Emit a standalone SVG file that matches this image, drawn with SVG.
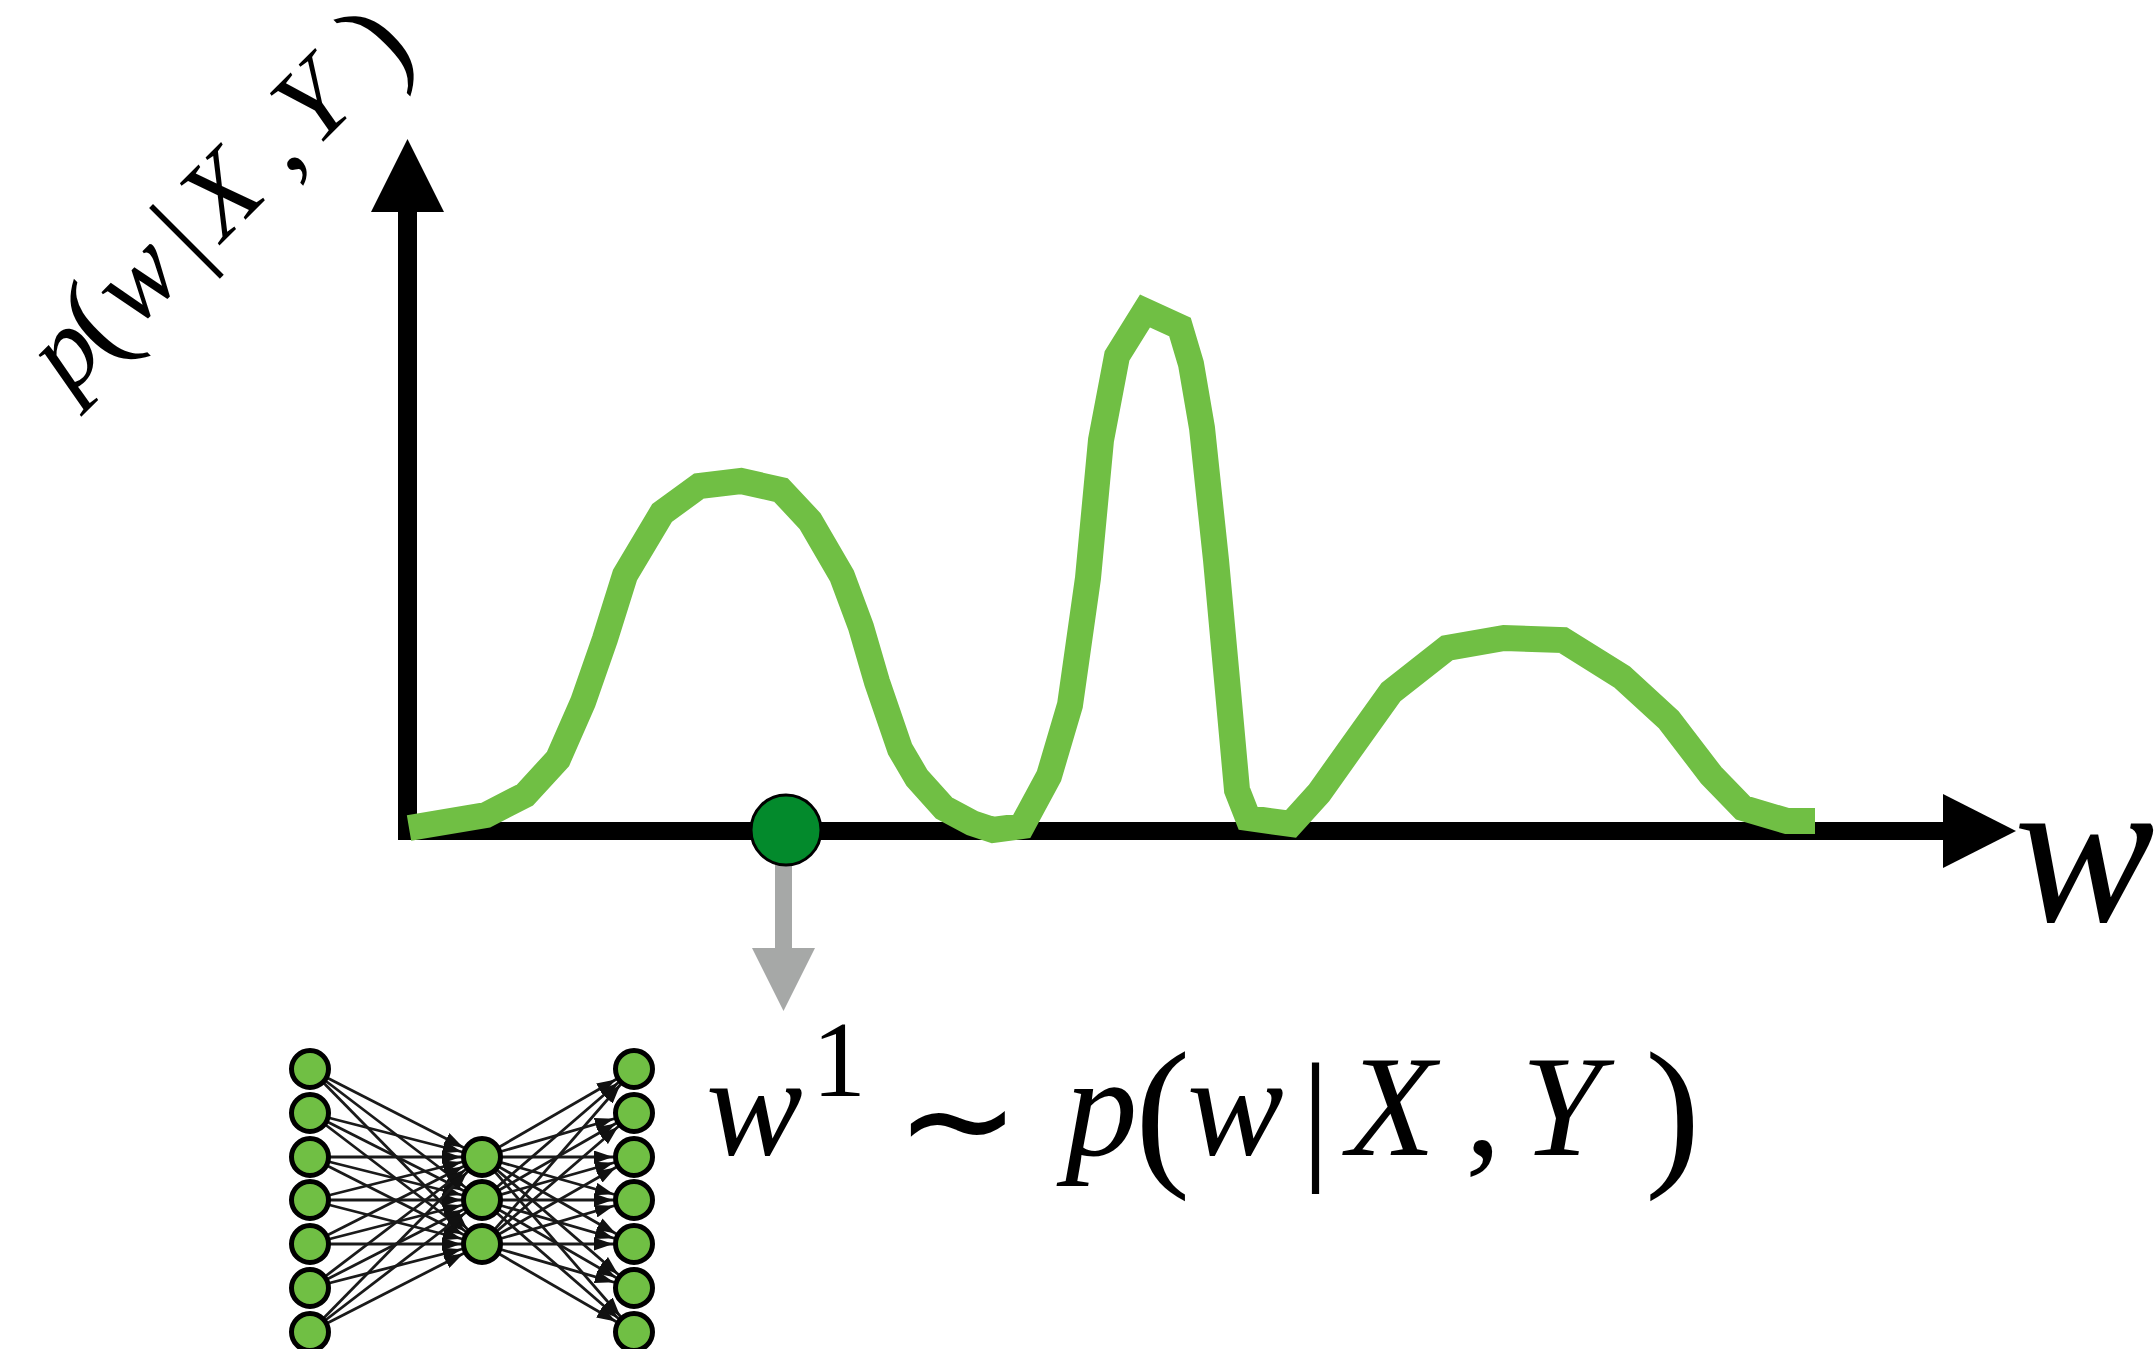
<svg xmlns="http://www.w3.org/2000/svg" width="2156" height="1349" viewBox="0 0 2156 1349">
<style>
.ax{fill:#000}
.curve{fill:none;stroke:#70bf44;stroke-width:26;stroke-linejoin:miter;stroke-miterlimit:10}
.node{fill:#70bf44;stroke:#000;stroke-width:5}
.edges line{stroke:#1a1a1a;stroke-width:2.8;marker-end:url(#ah)}
.m{font-family:"Liberation Serif","Times New Roman",serif;fill:#000}
.i{font-style:italic}
.op{font-family:"DejaVu Sans",sans-serif}
</style>
<defs>
<marker id="ah" markerUnits="userSpaceOnUse" viewBox="0 0 19 13" markerWidth="19" markerHeight="13" refX="40" refY="6.5" orient="auto">
<path d="M0,0 L19,6.5 L0,13 z" fill="#111"/>
</marker>
</defs>

<g id="axes">
<rect class="ax" x="398" y="205" width="19" height="635"/>
<polygon class="ax" points="407.5,139 371,212 444,212"/>
<rect class="ax" x="398" y="822" width="1550" height="18"/>
<polygon class="ax" points="2016,831 1943,794 1943,868"/>
</g>

<g id="density-curve">
<polyline class="curve" points="409,828 486,815 525,795 558,759 583,702 605,639 625,575 662,513 699,486 741,481 781,490 810,521 842,576 861,627 877,682 900,749 917,778 944,808 972,823 993,830 1022,826 1049,776 1070,705 1088,578 1101,440 1117,356 1145,311 1180,327 1191,364 1202,428 1216,560 1227,680 1237,790 1248,818 1291,824 1319,793 1351,748 1391,692 1447,648 1504,638 1563,640 1622,677 1669,720 1711,775 1743,808 1787,821 1815,821"/>
</g>

<g id="sample-arrow">
<rect x="775" y="864" width="17" height="86" fill="#a6a8a7"/>
<polygon points="752,948 815,948 783.5,1011" fill="#a6a8a7"/>
</g>

<g id="sample-point">
<circle cx="786" cy="830" r="35" fill="#038a2c" stroke="#000" stroke-width="3"/>
</g>

<g id="network">
<g class="edges">
<line x1="310" y1="1069" x2="482" y2="1157"/><line x1="310" y1="1069" x2="482" y2="1200"/><line x1="310" y1="1069" x2="482" y2="1244"/>
<line x1="310" y1="1113" x2="482" y2="1157"/><line x1="310" y1="1113" x2="482" y2="1200"/><line x1="310" y1="1113" x2="482" y2="1244"/>
<line x1="310" y1="1157" x2="482" y2="1157"/><line x1="310" y1="1157" x2="482" y2="1200"/><line x1="310" y1="1157" x2="482" y2="1244"/>
<line x1="310" y1="1200" x2="482" y2="1157"/><line x1="310" y1="1200" x2="482" y2="1200"/><line x1="310" y1="1200" x2="482" y2="1244"/>
<line x1="310" y1="1244" x2="482" y2="1157"/><line x1="310" y1="1244" x2="482" y2="1200"/><line x1="310" y1="1244" x2="482" y2="1244"/>
<line x1="310" y1="1288" x2="482" y2="1157"/><line x1="310" y1="1288" x2="482" y2="1200"/><line x1="310" y1="1288" x2="482" y2="1244"/>
<line x1="310" y1="1332" x2="482" y2="1157"/><line x1="310" y1="1332" x2="482" y2="1200"/><line x1="310" y1="1332" x2="482" y2="1244"/>
<line x1="482" y1="1157" x2="634" y2="1069"/><line x1="482" y1="1157" x2="634" y2="1113"/><line x1="482" y1="1157" x2="634" y2="1157"/><line x1="482" y1="1157" x2="634" y2="1200"/><line x1="482" y1="1157" x2="634" y2="1244"/><line x1="482" y1="1157" x2="634" y2="1288"/><line x1="482" y1="1157" x2="634" y2="1332"/>
<line x1="482" y1="1200" x2="634" y2="1069"/><line x1="482" y1="1200" x2="634" y2="1113"/><line x1="482" y1="1200" x2="634" y2="1157"/><line x1="482" y1="1200" x2="634" y2="1200"/><line x1="482" y1="1200" x2="634" y2="1244"/><line x1="482" y1="1200" x2="634" y2="1288"/><line x1="482" y1="1200" x2="634" y2="1332"/>
<line x1="482" y1="1244" x2="634" y2="1069"/><line x1="482" y1="1244" x2="634" y2="1113"/><line x1="482" y1="1244" x2="634" y2="1157"/><line x1="482" y1="1244" x2="634" y2="1200"/><line x1="482" y1="1244" x2="634" y2="1244"/><line x1="482" y1="1244" x2="634" y2="1288"/><line x1="482" y1="1244" x2="634" y2="1332"/>
</g>
<g id="layer-in">
<circle class="node" cx="310" cy="1069" r="18.5"/><circle class="node" cx="310" cy="1113" r="18.5"/><circle class="node" cx="310" cy="1157" r="18.5"/><circle class="node" cx="310" cy="1200" r="18.5"/><circle class="node" cx="310" cy="1244" r="18.5"/><circle class="node" cx="310" cy="1288" r="18.5"/><circle class="node" cx="310" cy="1332" r="18.5"/>
</g>
<g id="layer-hidden">
<circle class="node" cx="482" cy="1157" r="18.5"/><circle class="node" cx="482" cy="1200" r="18.5"/><circle class="node" cx="482" cy="1244" r="18.5"/>
</g>
<g id="layer-out">
<circle class="node" cx="634" cy="1069" r="18.5"/><circle class="node" cx="634" cy="1113" r="18.5"/><circle class="node" cx="634" cy="1157" r="18.5"/><circle class="node" cx="634" cy="1200" r="18.5"/><circle class="node" cx="634" cy="1244" r="18.5"/><circle class="node" cx="634" cy="1288" r="18.5"/><circle class="node" cx="634" cy="1332" r="18.5"/>
</g>
</g>

<g id="y-label">
<text class="m" transform="translate(232.5,232.5) rotate(-45)" font-size="110"><tspan class="i" x="-231" y="0">p</tspan><tspan x="-181" y="4" font-size="120">(</tspan><tspan class="i" x="-138" y="0">w</tspan><tspan x="-50" y="0">|</tspan><tspan class="i" x="-15" y="0">X</tspan><tspan x="79" y="0">,</tspan><tspan class="i" x="118" y="0">Y</tspan><tspan x="218" y="4" font-size="120">)</tspan></text>
</g>

<g id="x-label">
<text class="m i" x="2014" y="921" font-size="211">w</text>
</g>

<g id="sample-formula">
<text class="m" font-size="145"><tspan class="i" x="706" y="1155">w</tspan><tspan x="812" y="1096" font-size="108">1</tspan><tspan class="op" x="895" y="1171" font-size="150">∼</tspan><tspan class="i" x="1065" y="1155">p</tspan><tspan x="1135" y="1166" font-size="166">(</tspan><tspan class="i" x="1187" y="1155">w</tspan><tspan x="1301" y="1163">|</tspan><tspan class="i" x="1347" y="1155">X</tspan><tspan x="1465" y="1155">,</tspan><tspan class="i" x="1521" y="1155">Y</tspan><tspan x="1645" y="1166" font-size="166">)</tspan></text>
</g>
</svg>
